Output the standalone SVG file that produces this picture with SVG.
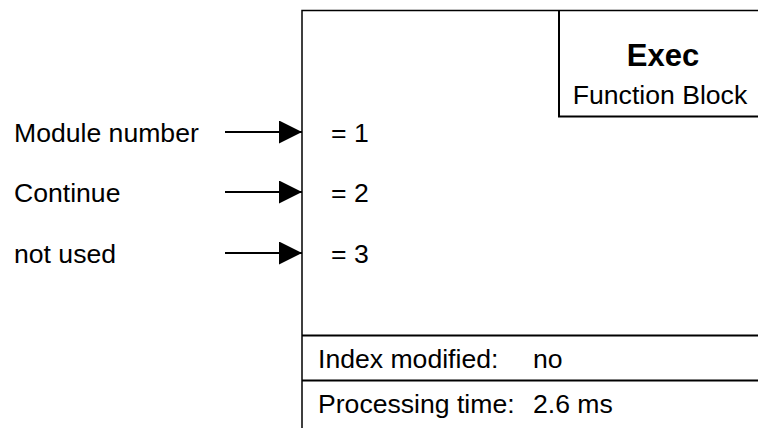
<svg xmlns="http://www.w3.org/2000/svg" width="758" height="428" viewBox="0 0 758 428">
<defs>
<style>
text{font-family:"Liberation Sans",Arial,sans-serif;font-size:26.6px;fill:#000}
.b{font-weight:bold;font-size:31px}
.ln{stroke:#000;stroke-width:2;fill:none}
.thin{stroke:#000;stroke-width:1.5;fill:none}
</style>
<marker id="ah" markerWidth="23" markerHeight="23" refX="23" refY="11.5" orient="auto" markerUnits="userSpaceOnUse">
<path d="M0,0 L23,11.5 L0,23 Z" fill="#000"/>
</marker>
</defs>
<rect width="758" height="428" fill="#fff"/>
<g id="block">
<path class="thin" d="M302,428 V10.5 H758"/>
<path class="ln" d="M302,335.5 H758 M302,380.5 H758"/>
<text x="318" y="368">Index modified:</text>
<text x="533" y="368">no</text>
<text x="318" y="413">Processing time:</text>
<text x="533" y="413">2.6 ms</text>
<text x="331" y="142">= 1</text>
<text x="331" y="202">= 2</text>
<text x="331" y="263">= 3</text>
</g>
<g id="title">
<path class="ln" d="M559,10 V116.5 H758"/>
<text class="b" x="663" y="66" text-anchor="middle">Exec</text>
<text x="660" y="104" text-anchor="middle">Function Block</text>
</g>
<g id="labels">
<text x="14" y="142">Module number</text>
<text x="14" y="202">Continue</text>
<text x="14" y="263">not used</text>
</g>
<g id="connectors">
<line class="ln" x1="225" y1="132" x2="302" y2="132" marker-end="url(#ah)"/>
<line class="ln" x1="225" y1="192" x2="302" y2="192" marker-end="url(#ah)"/>
<line class="ln" x1="225" y1="253" x2="302" y2="253" marker-end="url(#ah)"/>
</g>
</svg>
